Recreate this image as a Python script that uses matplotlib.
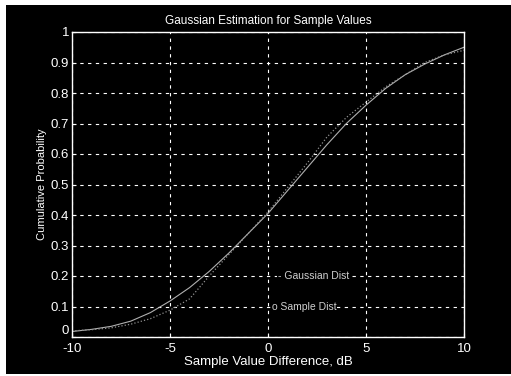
import matplotlib
matplotlib.use("Agg")
import matplotlib.pyplot as plt
from matplotlib.patches import Rectangle

plt.rcParams['font.family'] = ['Liberation Sans', 'DejaVu Sans']

# Data
x_vals = [-10, -9, -8, -7, -6, -5, -4, -3, -2, -1, 0, 1, 2, 3, 4, 5, 6, 7, 8, 9, 10]
gauss_cdf = [0.018, 0.025, 0.035, 0.052, 0.08, 0.118, 0.162, 0.215, 0.275, 0.34, 0.405,
             0.48, 0.555, 0.63, 0.70, 0.76, 0.815, 0.86, 0.895, 0.925, 0.95]
sample_cdf = [0.02, 0.024, 0.03, 0.042, 0.06, 0.088, 0.125, 0.2, 0.27, 0.34, 0.41,
              0.49, 0.57, 0.655, 0.72, 0.77, 0.82, 0.86, 0.9, 0.925, 0.94]
x_ticks = [-10, -5, 0, 5, 10]
x_ticklabels = ['-10', '-5', '0', '5', '10']
y_ticks = [0, 0.1, 0.2, 0.3, 0.4, 0.5, 0.6, 0.7, 0.8, 0.9, 1.0]
y_ticklabels = ['0', '0.1', '0.2', '0.3', '0.4', '0.5', '0.6', '0.7', '0.8', '0.9', '1']

fig = plt.figure(figsize=(5.11, 3.76), dpi=100, facecolor='white')
fig.patches.append(Rectangle((6/511, 2/376), 1 - 6/511, 1 - 7/376,
                             transform=fig.transFigure, facecolor='black',
                             edgecolor='none', zorder=-10))
ax = fig.add_axes([72/511, 39/376, 392/511, 305/376])
ax.set_facecolor('black')

ax.plot(x_vals, gauss_cdf, color='#b0b0b0', lw=0.8)
ax.plot(x_vals, sample_cdf, color='#909090', lw=0.9, ls=':')

ax.set_xlim(-10, 10)
ax.set_ylim(0, 1)
ax.set_xticks(x_ticks)
ax.set_xticklabels(x_ticklabels)
ax.set_yticks(y_ticks)
ax.set_yticklabels(y_ticklabels)
ax.grid(True, color='white', ls=(0, (3, 4)), lw=0.8)
for s in ax.spines.values():
    s.set_color('white')
    s.set_linewidth(1.0)
ax.tick_params(colors='white', direction='in', length=3, labelsize=9.5, pad=2)
ax.tick_params(axis='x', pad=4)
ax.get_yticklabels()[0].set_va('bottom')

ax.set_title('Gaussian Estimation for Sample Values', color='white', fontsize=8.5, pad=6)
ax.set_xlabel('Sample Value Difference, dB', color='white', fontsize=9.5, labelpad=1)
ax.set_ylabel('Cumulative Probability', color='white', fontsize=8, labelpad=3)

ax.text(0.5, 0.2, '- Gaussian Dist', color='#d0d0d0', fontsize=7.5, va='center',
        ha='left', bbox=dict(facecolor='black', edgecolor='none', pad=0.5))
ax.text(0.2, 0.1, 'o Sample Dist', color='#d0d0d0', fontsize=7.5, va='center',
        ha='left', bbox=dict(facecolor='black', edgecolor='none', pad=0.5))

fig.savefig('out.png', dpi=100, facecolor=fig.get_facecolor())
